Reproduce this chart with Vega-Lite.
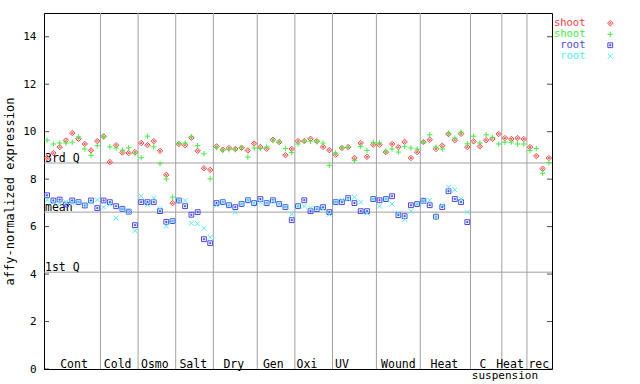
{
  "$schema": "https://vega.github.io/schema/vega-lite/v6.json",
  "width": 508,
  "height": 356,
  "autosize": {"type": "none"},
  "padding": {"left": 44, "top": 13, "right": 88, "bottom": 15},
  "background": "white",
  "config": {
    "view": {"stroke": "black", "strokeWidth": 1},
    "font": "DejaVu Sans Mono"
  },
  "datasets": {
    "dividers": [{"x": 9.5}, {"x": 15.5}, {"x": 21.5}, {"x": 27.5}, {"x": 34.5}, {"x": 40.5}, {"x": 46.5}, {"x": 53.5}, {"x": 60.5}, {"x": 68.5}, {"x": 73.5}, {"x": 77.5}],
    "ticks": [{"v": 0}, {"v": 2}, {"v": 4}, {"v": 6}, {"v": 8}, {"v": 10}, {"v": 12}, {"v": 14}],
    "stats": [{"q": "3rd Q", "v": 8.68}, {"q": "mean", "v": 6.61}, {"q": "1st Q", "v": 4.08}],
    "groups": [
      {"lab": "Cont", "x": 5.28}, {"lab": "Cold", "x": 12.25}, {"lab": "Osmo", "x": 18.17}, {"lab": "Salt", "x": 24.3},
      {"lab": "Dry", "x": 30.76}, {"lab": "Gen", "x": 37.06}, {"lab": "Oxi", "x": 42.43}, {"lab": "UV", "x": 48.0},
      {"lab": "Wound", "x": 57.0}, {"lab": "Heat", "x": 64.35}, {"lab": "C", "x": 70.5}, {"lab": "Heat", "x": 74.8}, {"lab": "rec", "x": 79.4}
    ],
    "sub": [{"lab": "suspension", "x": 74.0}],
    "pts": [
      {"x":1,"s":"s1","v":8.90},{"x":2,"s":"s1","v":9.10},{"x":3,"s":"s1","v":9.35},{"x":4,"s":"s1","v":9.63},{"x":5,"s":"s1","v":9.94},{"x":6,"s":"s1","v":9.70},{"x":7,"s":"s1","v":9.48},{"x":8,"s":"s1","v":9.21},{"x":9,"s":"s1","v":9.60},
      {"x":10,"s":"s1","v":9.80},{"x":11,"s":"s1","v":8.72},{"x":12,"s":"s1","v":9.43},{"x":13,"s":"s1","v":9.12},{"x":14,"s":"s1","v":9.10},{"x":15,"s":"s1","v":9.14},
      {"x":16,"s":"s1","v":9.52},{"x":17,"s":"s1","v":9.43},{"x":18,"s":"s1","v":9.60},{"x":19,"s":"s1","v":9.19},{"x":20,"s":"s1","v":8.18},{"x":21,"s":"s1","v":6.99},
      {"x":22,"s":"s1","v":9.48},{"x":23,"s":"s1","v":9.43},{"x":24,"s":"s1","v":9.74},{"x":25,"s":"s1","v":9.19},{"x":26,"s":"s1","v":8.46},{"x":27,"s":"s1","v":8.39},
      {"x":28,"s":"s1","v":9.38},{"x":29,"s":"s1","v":9.24},{"x":30,"s":"s1","v":9.31},{"x":31,"s":"s1","v":9.27},{"x":32,"s":"s1","v":9.32},{"x":33,"s":"s1","v":9.21},{"x":34,"s":"s1","v":9.50},
      {"x":35,"s":"s1","v":9.35},{"x":36,"s":"s1","v":9.28},{"x":37,"s":"s1","v":9.66},{"x":38,"s":"s1","v":9.56},{"x":39,"s":"s1","v":9.01},{"x":40,"s":"s1","v":9.27},
      {"x":41,"s":"s1","v":9.60},{"x":42,"s":"s1","v":9.60},{"x":43,"s":"s1","v":9.70},{"x":44,"s":"s1","v":9.60},{"x":45,"s":"s1","v":9.36},{"x":46,"s":"s1","v":9.22},
      {"x":47,"s":"s1","v":9.03},{"x":48,"s":"s1","v":9.31},{"x":49,"s":"s1","v":9.35},{"x":50,"s":"s1","v":8.89},{"x":51,"s":"s1","v":9.52},{"x":52,"s":"s1","v":8.94},{"x":53,"s":"s1","v":9.45},
      {"x":54,"s":"s1","v":9.45},{"x":55,"s":"s1","v":9.14},{"x":56,"s":"s1","v":9.48},{"x":57,"s":"s1","v":9.35},{"x":58,"s":"s1","v":9.57},{"x":59,"s":"s1","v":8.89},{"x":60,"s":"s1","v":9.14},
      {"x":61,"s":"s1","v":9.56},{"x":62,"s":"s1","v":9.66},{"x":63,"s":"s1","v":9.27},{"x":64,"s":"s1","v":9.41},{"x":65,"s":"s1","v":9.90},{"x":66,"s":"s1","v":9.64},{"x":67,"s":"s1","v":9.91},{"x":68,"s":"s1","v":9.35},
      {"x":69,"s":"s1","v":9.59},{"x":70,"s":"s1","v":9.38},{"x":71,"s":"s1","v":9.64},{"x":72,"s":"s1","v":9.69},{"x":73,"s":"s1","v":9.90},
      {"x":74,"s":"s1","v":9.73},{"x":75,"s":"s1","v":9.69},{"x":76,"s":"s1","v":9.73},{"x":77,"s":"s1","v":9.69},
      {"x":78,"s":"s1","v":9.35},{"x":79,"s":"s1","v":8.97},{"x":80,"s":"s1","v":8.44},{"x":81,"s":"s1","v":8.89},
      {"x":1,"s":"s2","v":9.64},{"x":2,"s":"s2","v":9.48},{"x":3,"s":"s2","v":9.52},{"x":4,"s":"s2","v":9.52},{"x":5,"s":"s2","v":9.56},{"x":6,"s":"s2","v":9.78},{"x":7,"s":"s2","v":9.27},{"x":8,"s":"s2","v":9.00},{"x":9,"s":"s2","v":9.41},
      {"x":10,"s":"s2","v":9.78},{"x":11,"s":"s2","v":9.36},{"x":12,"s":"s2","v":9.31},{"x":13,"s":"s2","v":9.22},{"x":14,"s":"s2","v":9.32},{"x":15,"s":"s2","v":9.07},
      {"x":16,"s":"s2","v":8.90},{"x":17,"s":"s2","v":9.81},{"x":18,"s":"s2","v":9.36},{"x":19,"s":"s2","v":8.65},{"x":20,"s":"s2","v":8.01},{"x":21,"s":"s2","v":7.24},
      {"x":22,"s":"s2","v":9.50},{"x":23,"s":"s2","v":9.52},{"x":24,"s":"s2","v":9.78},{"x":25,"s":"s2","v":9.41},{"x":26,"s":"s2","v":9.07},{"x":27,"s":"s2","v":8.01},
      {"x":28,"s":"s2","v":9.33},{"x":29,"s":"s2","v":9.21},{"x":30,"s":"s2","v":9.24},{"x":31,"s":"s2","v":9.24},{"x":32,"s":"s2","v":9.31},{"x":33,"s":"s2","v":8.93},{"x":34,"s":"s2","v":9.31},
      {"x":35,"s":"s2","v":9.29},{"x":36,"s":"s2","v":9.35},{"x":37,"s":"s2","v":9.64},{"x":38,"s":"s2","v":9.56},{"x":39,"s":"s2","v":9.29},{"x":40,"s":"s2","v":9.12},
      {"x":41,"s":"s2","v":9.48},{"x":42,"s":"s2","v":9.60},{"x":43,"s":"s2","v":9.60},{"x":44,"s":"s2","v":9.57},{"x":45,"s":"s2","v":9.52},{"x":46,"s":"s2","v":8.58},
      {"x":47,"s":"s2","v":9.10},{"x":48,"s":"s2","v":9.32},{"x":49,"s":"s2","v":9.33},{"x":50,"s":"s2","v":8.79},{"x":51,"s":"s2","v":9.38},{"x":52,"s":"s2","v":9.21},{"x":53,"s":"s2","v":9.55},
      {"x":54,"s":"s2","v":9.52},{"x":55,"s":"s2","v":9.17},{"x":56,"s":"s2","v":9.27},{"x":57,"s":"s2","v":9.14},{"x":58,"s":"s2","v":9.38},{"x":59,"s":"s2","v":9.31},{"x":60,"s":"s2","v":9.27},
      {"x":61,"s":"s2","v":9.55},{"x":62,"s":"s2","v":9.87},{"x":63,"s":"s2","v":9.35},{"x":64,"s":"s2","v":9.27},{"x":65,"s":"s2","v":9.94},{"x":66,"s":"s2","v":9.73},{"x":67,"s":"s2","v":9.98},{"x":68,"s":"s2","v":9.49},
      {"x":69,"s":"s2","v":9.81},{"x":70,"s":"s2","v":9.52},{"x":71,"s":"s2","v":9.87},{"x":72,"s":"s2","v":9.76},{"x":73,"s":"s2","v":9.48},
      {"x":74,"s":"s2","v":9.56},{"x":75,"s":"s2","v":9.56},{"x":76,"s":"s2","v":9.48},{"x":77,"s":"s2","v":9.48},
      {"x":78,"s":"s2","v":9.21},{"x":79,"s":"s2","v":9.29},{"x":80,"s":"s2","v":8.25},{"x":81,"s":"s2","v":8.70},
      {"x":1,"s":"r1","v":7.32},{"x":2,"s":"r1","v":7.10},{"x":3,"s":"r1","v":7.14},{"x":4,"s":"r1","v":6.93},{"x":5,"s":"r1","v":7.10},{"x":6,"s":"r1","v":7.03},{"x":7,"s":"r1","v":6.89},{"x":8,"s":"r1","v":7.10},{"x":9,"s":"r1","v":6.78},
      {"x":10,"s":"r1","v":7.10},{"x":11,"s":"r1","v":7.03},{"x":12,"s":"r1","v":6.86},{"x":13,"s":"r1","v":6.75},{"x":14,"s":"r1","v":6.63},{"x":15,"s":"r1","v":6.06},
      {"x":16,"s":"r1","v":7.03},{"x":17,"s":"r1","v":7.03},{"x":18,"s":"r1","v":7.03},{"x":19,"s":"r1","v":6.65},{"x":20,"s":"r1","v":6.20},{"x":21,"s":"r1","v":6.23},
      {"x":22,"s":"r1","v":7.10},{"x":23,"s":"r1","v":6.86},{"x":24,"s":"r1","v":6.50},{"x":25,"s":"r1","v":6.61},{"x":26,"s":"r1","v":5.47},{"x":27,"s":"r1","v":5.30},
      {"x":28,"s":"r1","v":6.99},{"x":29,"s":"r1","v":7.03},{"x":30,"s":"r1","v":6.90},{"x":31,"s":"r1","v":6.82},{"x":32,"s":"r1","v":6.95},{"x":33,"s":"r1","v":7.11},{"x":34,"s":"r1","v":6.99},
      {"x":35,"s":"r1","v":7.16},{"x":36,"s":"r1","v":6.99},{"x":37,"s":"r1","v":7.11},{"x":38,"s":"r1","v":6.95},{"x":39,"s":"r1","v":6.82},{"x":40,"s":"r1","v":6.27},
      {"x":41,"s":"r1","v":6.86},{"x":42,"s":"r1","v":7.11},{"x":43,"s":"r1","v":6.65},{"x":44,"s":"r1","v":6.74},{"x":45,"s":"r1","v":6.82},{"x":46,"s":"r1","v":6.61},
      {"x":47,"s":"r1","v":7.03},{"x":48,"s":"r1","v":7.03},{"x":49,"s":"r1","v":7.20},{"x":50,"s":"r1","v":6.99},{"x":51,"s":"r1","v":6.65},{"x":52,"s":"r1","v":6.65},{"x":53,"s":"r1","v":7.16},
      {"x":54,"s":"r1","v":7.11},{"x":55,"s":"r1","v":7.16},{"x":56,"s":"r1","v":7.28},{"x":57,"s":"r1","v":6.48},{"x":58,"s":"r1","v":6.44},{"x":59,"s":"r1","v":6.90},{"x":60,"s":"r1","v":6.95},
      {"x":61,"s":"r1","v":7.09},{"x":62,"s":"r1","v":6.90},{"x":63,"s":"r1","v":6.42},{"x":64,"s":"r1","v":6.82},{"x":65,"s":"r1","v":7.49},{"x":66,"s":"r1","v":7.16},{"x":67,"s":"r1","v":7.03},{"x":68,"s":"r1","v":6.19},
      {"x":1,"s":"r2","v":7.13},{"x":2,"s":"r2","v":7.03},{"x":3,"s":"r2","v":6.99},{"x":4,"s":"r2","v":7.04},{"x":5,"s":"r2","v":6.99},{"x":6,"s":"r2","v":7.03},{"x":7,"s":"r2","v":6.93},{"x":8,"s":"r2","v":7.03},{"x":9,"s":"r2","v":7.13},
      {"x":10,"s":"r2","v":6.82},{"x":11,"s":"r2","v":6.95},{"x":12,"s":"r2","v":6.36},{"x":13,"s":"r2","v":6.75},{"x":14,"s":"r2","v":6.63},{"x":15,"s":"r2","v":5.83},
      {"x":16,"s":"r2","v":7.28},{"x":17,"s":"r2","v":6.93},{"x":18,"s":"r2","v":7.20},{"x":19,"s":"r2","v":6.76},{"x":20,"s":"r2","v":6.02},{"x":21,"s":"r2","v":6.23},
      {"x":22,"s":"r2","v":7.10},{"x":23,"s":"r2","v":7.10},{"x":24,"s":"r2","v":6.14},{"x":25,"s":"r2","v":6.12},{"x":26,"s":"r2","v":5.93},{"x":27,"s":"r2","v":5.55},
      {"x":28,"s":"r2","v":6.90},{"x":29,"s":"r2","v":7.03},{"x":30,"s":"r2","v":6.90},{"x":31,"s":"r2","v":6.61},{"x":32,"s":"r2","v":6.95},{"x":33,"s":"r2","v":7.11},{"x":34,"s":"r2","v":6.99},
      {"x":35,"s":"r2","v":7.03},{"x":36,"s":"r2","v":6.99},{"x":37,"s":"r2","v":7.08},{"x":38,"s":"r2","v":6.95},{"x":39,"s":"r2","v":6.82},{"x":40,"s":"r2","v":6.52},
      {"x":41,"s":"r2","v":6.86},{"x":42,"s":"r2","v":6.86},{"x":43,"s":"r2","v":6.78},{"x":44,"s":"r2","v":6.78},{"x":45,"s":"r2","v":6.74},{"x":46,"s":"r2","v":6.52},
      {"x":47,"s":"r2","v":7.03},{"x":48,"s":"r2","v":7.11},{"x":49,"s":"r2","v":7.16},{"x":50,"s":"r2","v":7.24},{"x":51,"s":"r2","v":7.03},{"x":52,"s":"r2","v":6.57},{"x":53,"s":"r2","v":7.16},
      {"x":54,"s":"r2","v":6.86},{"x":55,"s":"r2","v":7.16},{"x":56,"s":"r2","v":6.95},{"x":57,"s":"r2","v":6.57},{"x":58,"s":"r2","v":6.31},{"x":59,"s":"r2","v":6.65},{"x":60,"s":"r2","v":6.95},
      {"x":61,"s":"r2","v":7.09},{"x":62,"s":"r2","v":7.11},{"x":63,"s":"r2","v":6.42},{"x":64,"s":"r2","v":6.90},{"x":65,"s":"r2","v":7.66},{"x":66,"s":"r2","v":7.55},{"x":67,"s":"r2","v":7.16},{"x":68,"s":"r2","v":6.61}
    ]
  },
  "layer": [
    {
      "data": {"name": "dividers"},
      "mark": {"type": "rule", "color": "#a0a0a0", "strokeWidth": 1},
      "encoding": {
        "x": {"field": "x", "type": "quantitative", "scale": {"domain": [0.5, 81.5], "nice": false, "zero": false}, "axis": null}
      }
    },
    {
      "data": {"name": "stats"},
      "mark": {"type": "rule", "color": "#a0a0a0", "strokeWidth": 1},
      "encoding": {
        "y": {"field": "v", "type": "quantitative", "scale": {"domain": [0, 15], "nice": false},
          "axis": {"orient": "left", "values": [0, 2, 4, 6, 8, 10, 12, 14], "ticks": false, "labelPadding": 8, "domainColor": "black", "grid": false, "labelFont": "DejaVu Sans Mono", "labelFontSize": 11, "labelColor": "black", "title": "affy-normalized expression", "titleFont": "DejaVu Sans Mono", "titleFontSize": 12, "titleFontWeight": "normal", "titleColor": "black", "titleX": -31, "titleY": 178, "titleAngle": -90, "titleAlign": "center", "titleBaseline": "alphabetic"}}
      }
    },
    {
      "data": {"name": "stats"},
      "mark": {"type": "text", "align": "left", "baseline": "alphabetic", "dx": 1, "dy": -1, "fontSize": 11.5, "color": "black"},
      "encoding": {
        "x": {"datum": 0.5, "type": "quantitative", "axis": null},
        "y": {"field": "v", "type": "quantitative",
          "axis": {"orient": "left", "values": [0, 2, 4, 6, 8, 10, 12, 14], "ticks": false, "labelPadding": 8, "domainColor": "black", "grid": false, "labelFont": "DejaVu Sans Mono", "labelFontSize": 11, "labelColor": "black", "title": "affy-normalized expression", "titleFont": "DejaVu Sans Mono", "titleFontSize": 12, "titleFontWeight": "normal", "titleColor": "black", "titleX": -31, "titleY": 178, "titleAngle": -90, "titleAlign": "center", "titleBaseline": "alphabetic"}},
        "text": {"field": "q"}
      }
    },
    {
      "data": {"name": "ticks"},
      "mark": {"type": "tick", "orient": "horizontal", "size": 5, "thickness": 1, "color": "black", "xOffset": 2.5},
      "encoding": {
        "x": {"datum": 0.5, "type": "quantitative", "axis": null},
        "y": {"field": "v", "type": "quantitative",
          "axis": {"orient": "left", "values": [0, 2, 4, 6, 8, 10, 12, 14], "ticks": false, "labelPadding": 8, "domainColor": "black", "grid": false, "labelFont": "DejaVu Sans Mono", "labelFontSize": 11, "labelColor": "black", "title": "affy-normalized expression", "titleFont": "DejaVu Sans Mono", "titleFontSize": 12, "titleFontWeight": "normal", "titleColor": "black", "titleX": -31, "titleY": 178, "titleAngle": -90, "titleAlign": "center", "titleBaseline": "alphabetic"}}
      }
    },
    {
      "data": {"name": "ticks"},
      "mark": {"type": "tick", "orient": "horizontal", "size": 5, "thickness": 1, "color": "black", "xOffset": -2.5},
      "encoding": {
        "x": {"datum": 81.5, "type": "quantitative", "axis": null},
        "y": {"field": "v", "type": "quantitative",
          "axis": {"orient": "left", "values": [0, 2, 4, 6, 8, 10, 12, 14], "ticks": false, "labelPadding": 8, "domainColor": "black", "grid": false, "labelFont": "DejaVu Sans Mono", "labelFontSize": 11, "labelColor": "black", "title": "affy-normalized expression", "titleFont": "DejaVu Sans Mono", "titleFontSize": 12, "titleFontWeight": "normal", "titleColor": "black", "titleX": -31, "titleY": 178, "titleAngle": -90, "titleAlign": "center", "titleBaseline": "alphabetic"}}
      }
    },
    {
      "data": {"name": "pts"},
      "mark": {"type": "point", "filled": false, "strokeWidth": 1, "size": 36, "opacity": 1},
      "encoding": {
        "x": {"field": "x", "type": "quantitative", "axis": null},
        "y": {"field": "v", "type": "quantitative",
          "axis": {"orient": "left", "values": [0, 2, 4, 6, 8, 10, 12, 14], "ticks": false, "labelPadding": 8, "domainColor": "black", "grid": false, "labelFont": "DejaVu Sans Mono", "labelFontSize": 11, "labelColor": "black", "title": "affy-normalized expression", "titleFont": "DejaVu Sans Mono", "titleFontSize": 12, "titleFontWeight": "normal", "titleColor": "black", "titleX": -31, "titleY": 178, "titleAngle": -90, "titleAlign": "center", "titleBaseline": "alphabetic"}},
        "color": {"field": "s", "type": "nominal",
          "scale": {"domain": ["s1", "s2", "r1", "r2"], "range": ["#ff4040", "#40f040", "#4848f0", "#50f0f0"]},
          "legend": {"orient": "none", "legendX": 561, "legendY": 5, "title": null, "padding": 0, "rowPadding": 0,
            "labelAlign": "right", "labelOffset": -30, "labelFont": "DejaVu Sans Mono", "labelFontSize": 10.5, "symbolSize": 36, "symbolStrokeWidth": 1,
            "labelExpr": "datum.value == 's1' || datum.value == 's2' ? 'shoot' : 'root'",
            "labelColor": {"expr": "datum.value == 's1' ? '#ff4040' : datum.value == 's2' ? '#40f040' : datum.value == 'r1' ? '#4848f0' : '#50f0f0'"}}},
        "shape": {"field": "s", "type": "nominal",
          "scale": {"domain": ["s1", "s2", "r1", "r2"], "range": [
            "M0,-0.9L0.9,0L0,0.9L-0.9,0Z M0,-0.3L0.3,0L0,0.3L-0.3,0Z",
            "M-0.9,0L0.9,0M0,-0.9L0,0.9",
            "M-0.8,-0.8L0.8,-0.8L0.8,0.8L-0.8,0.8Z M-0.2,-0.2L0.2,-0.2L0.2,0.2L-0.2,0.2Z",
            "M-0.8,-0.8L0.8,0.8M-0.8,0.8L0.8,-0.8"]},
          "legend": {"orient": "none", "legendX": 561, "legendY": 5, "title": null, "padding": 0, "rowPadding": 0,
            "labelAlign": "right", "labelOffset": -30, "labelFont": "DejaVu Sans Mono", "labelFontSize": 10.5, "symbolSize": 36, "symbolStrokeWidth": 1,
            "labelExpr": "datum.value == 's1' || datum.value == 's2' ? 'shoot' : 'root'",
            "labelColor": {"expr": "datum.value == 's1' ? '#ff4040' : datum.value == 's2' ? '#40f040' : datum.value == 'r1' ? '#4848f0' : '#50f0f0'"}}}
      }
    },
    {
      "data": {"name": "groups"},
      "mark": {"type": "text", "align": "center", "baseline": "alphabetic", "dy": -1.5, "fontSize": 11.5, "color": "black"},
      "encoding": {
        "x": {"field": "x", "type": "quantitative", "axis": null},
        "y": {"datum": 0, "type": "quantitative",
          "axis": {"orient": "left", "values": [0, 2, 4, 6, 8, 10, 12, 14], "ticks": false, "labelPadding": 8, "domainColor": "black", "grid": false, "labelFont": "DejaVu Sans Mono", "labelFontSize": 11, "labelColor": "black", "title": "affy-normalized expression", "titleFont": "DejaVu Sans Mono", "titleFontSize": 12, "titleFontWeight": "normal", "titleColor": "black", "titleX": -31, "titleY": 178, "titleAngle": -90, "titleAlign": "center", "titleBaseline": "alphabetic"}},
        "text": {"field": "lab"}
      }
    },
    {
      "data": {"name": "sub"},
      "mark": {"type": "text", "align": "center", "baseline": "alphabetic", "dy": 10, "fontSize": 11, "color": "black"},
      "encoding": {
        "x": {"field": "x", "type": "quantitative", "axis": null},
        "y": {"datum": 0, "type": "quantitative",
          "axis": {"orient": "left", "values": [0, 2, 4, 6, 8, 10, 12, 14], "ticks": false, "labelPadding": 8, "domainColor": "black", "grid": false, "labelFont": "DejaVu Sans Mono", "labelFontSize": 11, "labelColor": "black", "title": "affy-normalized expression", "titleFont": "DejaVu Sans Mono", "titleFontSize": 12, "titleFontWeight": "normal", "titleColor": "black", "titleX": -31, "titleY": 178, "titleAngle": -90, "titleAlign": "center", "titleBaseline": "alphabetic"}},
        "text": {"field": "lab"}
      }
    }
  ]
}
